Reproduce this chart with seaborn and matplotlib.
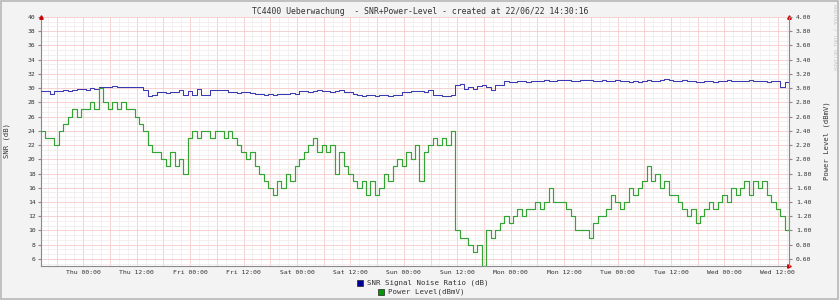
import matplotlib
matplotlib.use("Agg")
import matplotlib.pyplot as plt
import matplotlib.dates as mdates
from matplotlib.ticker import MultipleLocator, FuncFormatter
from matplotlib.patches import Rectangle
import seaborn as sns
import pandas as pd

# ---------------- data (hourly samples) ----------------
START = "2022-06-15 14:30"
TITLE = "TC4400 Ueberwachung  - SNR+Power-Level - created at 22/06/22 14:30:16"
SERIES_NAMES = ["SNR Signal Noise Ratio (dB)", "Power Level(dBmV)"]

snr_db = [
    29.6, 29.6, 29.2, 29.6, 29.6, 29.7, 29.6, 29.7, 29.9, 29.9,
    29.8, 30.0, 29.9, 30.2, 30.1, 30.2, 30.3, 30.1, 30.2, 30.1,
    30.1, 30.2, 30.1, 29.8, 28.9, 29.1, 29.4, 29.4, 29.3, 29.4,
    29.4, 29.7, 29.1, 29.6, 29.0, 29.9, 29.1, 29.1, 29.8, 29.7,
    29.8, 29.8, 29.4, 29.4, 29.3, 29.5, 29.4, 29.3, 29.2, 29.2,
    29.1, 29.2, 29.1, 29.2, 29.2, 29.2, 29.3, 29.2, 29.6, 29.6,
    29.5, 29.6, 29.7, 29.6, 29.6, 29.5, 29.6, 29.7, 29.4, 29.4,
    29.2, 29.0, 28.9, 29.0, 29.0, 28.9, 29.0, 29.0, 28.9, 29.0,
    29.0, 29.4, 29.4, 29.6, 29.6, 29.6, 29.5, 29.7, 29.1, 29.0,
    28.9, 28.9, 29.0, 30.4, 30.6, 29.9, 30.1, 29.9, 30.3, 30.5,
    30.2, 29.8, 30.4, 30.5, 31.0, 30.9, 30.9, 31.0, 31.0, 30.9,
    31.0, 31.0, 31.0, 31.2, 31.0, 31.0, 31.1, 31.2, 31.1, 31.0,
    31.0, 31.1, 31.2, 31.1, 31.0, 31.0, 31.1, 31.0, 31.0, 31.2,
    31.0, 31.0, 30.9, 31.0, 30.9, 31.0, 31.1, 31.0, 31.0, 31.2,
    31.3, 31.2, 31.0, 31.0, 31.1, 31.0, 31.0, 30.9, 30.9, 31.0,
    31.0, 30.9, 31.0, 31.0, 31.1, 31.0, 31.0, 31.0, 31.0, 31.1,
    31.0, 31.0, 31.0, 30.9, 31.0, 31.0, 30.2, 30.9, 30.9,
]

power_dbmv = [
    2.4, 2.3, 2.3, 2.2, 2.4, 2.5, 2.6, 2.7, 2.6, 2.7,
    2.7, 2.8, 2.7, 3.0, 2.8, 2.7, 2.8, 2.7, 2.8, 2.7,
    2.7, 2.6, 2.5, 2.4, 2.2, 2.1, 2.1, 2.0, 1.9, 2.1,
    1.9, 2.0, 1.8, 2.3, 2.4, 2.3, 2.4, 2.4, 2.3, 2.4,
    2.4, 2.3, 2.4, 2.3, 2.2, 2.1, 2.0, 2.1, 1.9, 1.8,
    1.7, 1.6, 1.5, 1.7, 1.6, 1.8, 1.7, 1.9, 2.0, 2.1,
    2.2, 2.3, 2.1, 2.2, 2.1, 2.2, 1.8, 2.1, 1.9, 1.8,
    1.7, 1.6, 1.7, 1.5, 1.7, 1.5, 1.6, 1.8, 1.7, 1.9,
    2.0, 1.9, 2.1, 2.0, 2.2, 1.7, 2.1, 2.2, 2.3, 2.2,
    2.3, 2.2, 2.4, 1.0, 0.9, 0.9, 0.8, 0.7, 0.8, 0.5,
    1.0, 0.9, 1.0, 1.1, 1.2, 1.1, 1.2, 1.3, 1.2, 1.3,
    1.3, 1.4, 1.3, 1.4, 1.6, 1.4, 1.4, 1.4, 1.3, 1.2,
    1.0, 1.0, 1.0, 0.9, 1.1, 1.2, 1.2, 1.3, 1.5, 1.4,
    1.3, 1.4, 1.6, 1.5, 1.6, 1.7, 1.9, 1.7, 1.8, 1.6,
    1.7, 1.5, 1.5, 1.4, 1.3, 1.2, 1.3, 1.1, 1.2, 1.3,
    1.4, 1.3, 1.4, 1.5, 1.4, 1.6, 1.5, 1.6, 1.7, 1.5,
    1.7, 1.6, 1.7, 1.5, 1.4, 1.3, 1.2, 1.0, 1.2,
]

snr_ylim = (5, 40)
power_ylim = (0.5, 4.0)

# ---------------- styling ----------------
sns.set_style("white")
plt.rcParams["font.family"] = ["DejaVu Sans Mono", "DejaVu Sans"]

BLUE = "#3a3ab0"
GREEN = "#33a333"
MAJ = "#f6caca"
MINOR = "#f0eaea"
AXC = "#8a8a8a"
TXT = "#333333"

times = pd.date_range(START, periods=len(snr_db), freq="h")
df = pd.DataFrame({"time": times, "snr": snr_db, "power": power_dbmv})

fig = plt.figure(figsize=(8.4, 3.0), dpi=100, facecolor="#f3f3f3")
ax = fig.add_axes([41 / 840, 1 - 266 / 300, 748 / 840, 249 / 300])
ax.set_facecolor("white")
ax2 = ax.twinx()

sns.lineplot(data=df, x="time", y="snr", ax=ax, drawstyle="steps-post",
             color=BLUE, lw=0.75, zorder=3)
sns.lineplot(data=df, x="time", y="power", ax=ax2, drawstyle="steps-post",
             color=GREEN, lw=0.85, zorder=3)

ax.set_xlim(times[0], times[-1])
ax.set_ylim(*snr_ylim)
ax2.set_ylim(*power_ylim)

# x axis: labels every 12h, major grid 6h, minor grid 2h
ax.xaxis.set_major_locator(mdates.HourLocator(byhour=[0, 6, 12, 18]))
ax.xaxis.set_minor_locator(mdates.HourLocator(byhour=range(0, 24, 2)))


def xfmt(v, pos=None):
    d = mdates.num2date(v)
    if d.hour in (0, 12):
        return d.strftime("%a %H:%M")
    return ""


ax.xaxis.set_major_formatter(FuncFormatter(xfmt))

ax.yaxis.set_major_locator(MultipleLocator(2))
ax.yaxis.set_minor_locator(MultipleLocator(2 / 3))
ax.yaxis.set_major_formatter(FuncFormatter(lambda v, p: f"{v:.0f}"))
ax2.yaxis.set_major_locator(MultipleLocator(0.2))
ax2.yaxis.set_major_formatter(FuncFormatter(lambda v, p: f"{v:.2f}"))

ax.set_axisbelow(True)
ax.grid(which="minor", color=MINOR, lw=0.5)
ax.grid(which="major", color=MAJ, lw=0.6)
ax2.grid(False)

ax.tick_params(axis="both", which="major", labelsize=4.6, length=2,
               color=AXC, labelcolor=TXT, pad=2)
ax.tick_params(axis="both", which="minor", length=0)
ax.tick_params(axis="x", which="major", length=0, pad=3)
ax2.tick_params(axis="y", labelsize=4.6, length=2, color=AXC,
                labelcolor=TXT, pad=3)

ax.set_xlabel("")
ax.set_ylabel("")
ax2.set_ylabel("")

for s in ["top", "right"]:
    ax.spines[s].set_visible(False)
for s in ["top", "left", "bottom"]:
    ax2.spines[s].set_visible(False)
for s in ["left", "bottom"]:
    ax.spines[s].set_color(AXC)
    ax.spines[s].set_linewidth(0.8)
ax2.spines["right"].set_color(AXC)
ax2.spines["right"].set_linewidth(0.8)

# small red arrow heads of the axes
for (px, py, m) in [(0, 1, "^"), (1, 1, "^"), (1, 0, ">")]:
    ax.plot([px], [py], marker=m, ms=2.5, color="#cc0000", mec="#cc0000",
            transform=ax.transAxes, clip_on=False, zorder=5)

# texts
fig.text(0.5, 1 - 12 / 300, TITLE, ha="center", va="center", fontsize=5.9,
         color=TXT)
fig.text(7 / 840, 1 - 141 / 300, "SNR (dB)", rotation=90, ha="center",
         va="center", fontsize=5.2, color=TXT)
fig.text(827 / 840, 1 - 141 / 300, "Power Level (dBmV)", rotation=90,
         ha="center", va="center", fontsize=5.2, color=TXT)
fig.text(835 / 840, 1 - 4 / 300, "RRDTOOL / TOBI OETIKER", rotation=270,
         ha="center", va="top", fontsize=3.6, color="#c4c4c4")

# legend
leg_rows = [(283, 357, "#000099", SERIES_NAMES[0]),
            (292, 378, "#009900", SERIES_NAMES[1])]
for y, x, c, label in leg_rows:
    fig.add_artist(Rectangle((x / 840, 1 - (y + 3) / 300), 6 / 840, 6 / 300,
                             transform=fig.transFigure, facecolor=c,
                             edgecolor="#222222", lw=0.5))
    fig.text((x + 10) / 840, 1 - y / 300, label, ha="left", va="center",
             fontsize=5.3, color=TXT)

# frame around the image
fig.add_artist(Rectangle((0.001, 0.002), 0.997, 0.995, transform=fig.transFigure,
                         fill=False, edgecolor="#b8b8b8", lw=1.2))

fig.savefig("out.png", dpi=100, facecolor=fig.get_facecolor())
